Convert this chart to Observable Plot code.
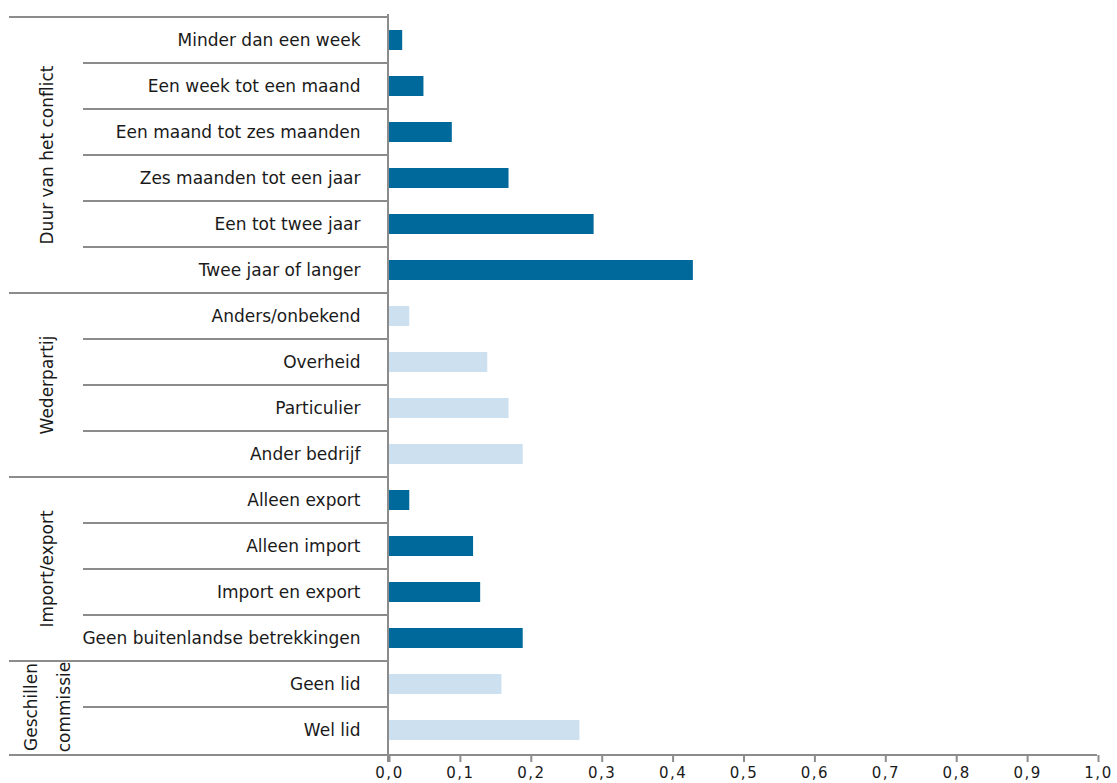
<!DOCTYPE html>
<html>
<head>
<meta charset="utf-8">
<script src="https://cdn.jsdelivr.net/npm/d3@7"></script>
<script src="https://cdn.jsdelivr.net/npm/@observablehq/plot@0.6"></script>
<style>
  html, body { margin: 0; padding: 0; background: #fff; }
  #chart svg { display: block; }
  .xticks text { letter-spacing: 1.5px; }
</style>
</head>
<body>
<div id="chart"></div>
<script>
const categories = [
  "Minder dan een week", "Een week tot een maand", "Een maand tot zes maanden",
  "Zes maanden tot een jaar", "Een tot twee jaar", "Twee jaar of langer",
  "Anders/onbekend", "Overheid", "Particulier", "Ander bedrijf",
  "Alleen export", "Alleen import", "Import en export", "Geen buitenlandse betrekkingen",
  "Geen lid", "Wel lid"
];
const values = [0.02, 0.05, 0.09, 0.17, 0.29, 0.43, 0.03, 0.14, 0.17, 0.19, 0.03, 0.12, 0.13, 0.19, 0.16, 0.27];
const groups = ["Duur van het conflict", "Wederpartij", "Import/export", "Geschillen commissie"];
const groupLabelLines = [["Duur van het conflict"], ["Wederpartij"], ["Import/export"], ["Geschillen", "commissie"]];
const groupSizes = [6, 4, 4, 2];
const xTicks = [0, 0.1, 0.2, 0.3, 0.4, 0.5, 0.6, 0.7, 0.8, 0.9, 1.0];

const groupOf = [];
groupSizes.forEach((n, gi) => { for (let k = 0; k < n; k++) groupOf.push(groups[gi]); });
const data = categories.map((c, i) => ({category: c, value: values[i], group: groupOf[i]}));

const DARK = "#00699c", LIGHT = "#cde0f0", GREY = "#8c8c8c", INK = "#1a1a1a";

function frameMark(index, scales, vals, dimensions) {
  const y = scales.y, x = scales.x;
  const step = y.step ? y.step() : (y(categories[1]) - y(categories[0]));
  const bw = y.bandwidth ? y.bandwidth() : step * 0.43;
  const off = (step - bw) / 2;
  const ml = dimensions.marginLeft;
  const top = dimensions.marginTop;
  const bottom = dimensions.height - dimensions.marginBottom;
  const g = d3.create("svg:g");
  const line = (x1, x2, yy) => g.append("line").attr("x1", x1).attr("x2", x2).attr("y1", yy).attr("y2", yy)
    .attr("stroke", GREY).attr("stroke-width", 2);
  let i = 0;
  groupSizes.forEach((n, gi) => {
    const gTop = y(categories[i]) - off;
    line(ml - 379, ml, gTop);
    for (let k = 1; k < n; k++) line(ml - 305, ml, y(categories[i + k]) - off);
    const gBot = y(categories[i + n - 1]) + bw + off;
    const cy = (gTop + gBot) / 2;
    const lines = groupLabelLines[gi];
    const xs = lines.length === 1 ? [ml - 341] : [ml - 357, ml - 324];
    lines.forEach((t, li) => {
      g.append("text").attr("transform", `translate(${xs[li]},${cy}) rotate(-90)`)
        .attr("text-anchor", "middle").attr("dominant-baseline", "central")
        .attr("fill", INK).attr("font-family", "DejaVu Sans").attr("font-size", 17).text(t);
    });
    i += n;
  });
  line(ml - 379, x(1), bottom);
  g.append("line").attr("x1", ml).attr("x2", ml).attr("y1", top).attr("y2", bottom + 7)
    .attr("stroke", GREY).attr("stroke-width", 2);
  return g.node();
}

const chart = Plot.plot({
  width: 1117,
  height: 783,
  marginLeft: 388,
  marginRight: 20,
  marginTop: 14,
  marginBottom: 28,
  style: {fontFamily: "DejaVu Sans", fontSize: "17px", color: INK, background: "#fff"},
  x: {domain: [0, 1], axis: null},
  y: {domain: categories, paddingInner: 0.57, paddingOuter: 0.285, axis: null},
  color: {domain: groups, range: [DARK, LIGHT, DARK, LIGHT]},
  marks: [
    Plot.barX(data, {x: "value", y: "category", fill: "group"}),
    Plot.axisY({tickSize: 0, tickPadding: 28, label: null, fill: INK, fontSize: 17}),
    Plot.axisX({ticks: xTicks, tickFormat: d => d.toFixed(1).replace(".", ","), tickSize: 7, tickPadding: 5,
      stroke: GREY, strokeWidth: 2, label: null, fill: INK, fontSize: 15, dx: 1, className: "xticks"}),
    frameMark
  ]
});
document.getElementById("chart").appendChild(chart);
</script>
</body>
</html>
